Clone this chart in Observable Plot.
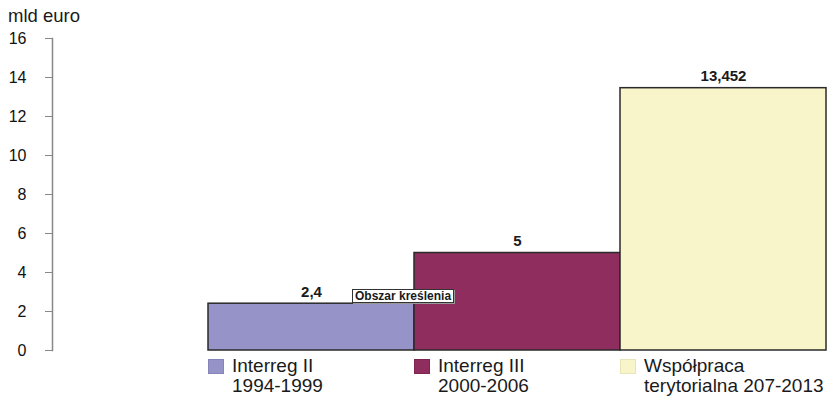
<!DOCTYPE html>
<html>
<head>
<meta charset="utf-8">
<script src="https://cdn.jsdelivr.net/npm/d3@7"></script>
<script src="https://cdn.jsdelivr.net/npm/@observablehq/plot@0.6"></script>
<style>
  html, body { margin: 0; padding: 0; background: #fff; }
  #wrap { position: relative; width: 827px; height: 398px; font-family: "Liberation Sans", Arial, sans-serif; color: #1a1a1a; overflow: hidden; }
  #unit { position: absolute; left: 8px; top: 7px; font-size: 18.5px; line-height: 18.5px; }
  #tip { position: absolute; left: 352px; top: 289px; background: #fff; border: 1px solid #333; box-shadow: 1px 1px 0 #999; font-weight: bold; font-size: 12px; line-height: 12px; padding: 0 2px; white-space: nowrap; }
  .leg { position: absolute; top: 356px; font-size: 19px; line-height: 20px; white-space: nowrap; }
  .sw { position: absolute; left: 0; top: 3px; width: 16px; height: 15px; box-sizing: border-box; }
  .lt { position: absolute; left: 24px; top: 0; }
</style>
</head>
<body>
<div id="wrap"><div id="unit">mld euro</div></div>
<script>
const categories = ["Interreg II 1994-1999", "Interreg III 2000-2006", "Współpraca terytorialna 207-2013"];
const legendLine1 = ["Interreg II", "Interreg III", "Współpraca"];
const legendLine2 = ["1994-1999", "2000-2006", "terytorialna 207-2013"];
const values = [2.4, 5, 13.452];
const colors = ["#9593C8", "#8F2E5E", "#F8F5CB"];
const swatchBorders = ["#8583b8", "#7f2450", "#e8e4b8"];
const yTicks = [0, 2, 4, 6, 8, 10, 12, 14, 16];

const data = categories.map((c, i) => ({cat: c, value: values[i]}));
const fmt = v => String(v).replace(".", ",");

const plot = Plot.plot({
  width: 827,
  height: 356,
  marginLeft: 52,
  marginRight: 1,
  marginTop: 38,
  marginBottom: 6,
  style: {fontFamily: "'Liberation Sans', Arial, sans-serif", background: "transparent", overflow: "visible"},
  x: {type: "band", domain: categories, paddingInner: 0, paddingOuter: 0.375, align: 1, axis: null},
  y: {domain: [0, 16], axis: null},
  color: {domain: categories, range: colors},
  marks: [
    Plot.axisY({ticks: yTicks, tickSize: 7, tickPadding: 19, stroke: "#888", fill: "#111", fontSize: 16, label: null, tickFormat: d => String(d)}),
    Plot.frame({anchor: "left", stroke: "#888", strokeWidth: 1.5}),
    Plot.barY(data, {x: "cat", y: "value", fill: "cat", stroke: "#2a2a2a", strokeWidth: 1.5}),
    Plot.text(data, {x: "cat", y: "value", text: d => fmt(d.value), lineAnchor: "bottom", dy: -7, fontWeight: "bold", fontSize: 15, fill: "#1a1a1a"})
  ]
});

const wrap = document.getElementById("wrap");
plot.style.position = "absolute";
plot.style.left = "0px";
plot.style.top = "0px";
wrap.insertBefore(plot, wrap.firstChild);

const xs = plot.scale("x");
categories.forEach((c, i) => {
  const item = document.createElement("div");
  item.className = "leg";
  item.style.left = xs.apply(c) + "px";
  const sw = document.createElement("div");
  sw.className = "sw";
  sw.style.background = colors[i];
  sw.style.border = "1px solid " + swatchBorders[i];
  const lt = document.createElement("div");
  lt.className = "lt";
  lt.innerHTML = legendLine1[i] + "<br>" + legendLine2[i];
  item.appendChild(sw);
  item.appendChild(lt);
  wrap.appendChild(item);
});

const tip = document.createElement("div");
tip.id = "tip";
tip.textContent = "Obszar kreślenia";
wrap.appendChild(tip);
</script>
</body>
</html>
